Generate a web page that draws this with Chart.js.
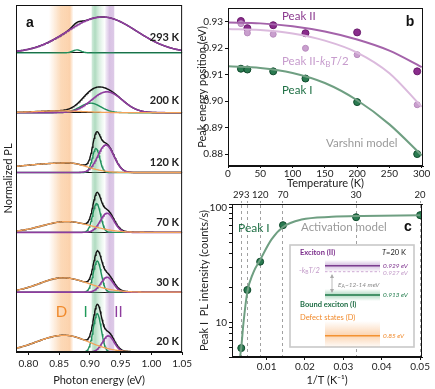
<!DOCTYPE html>
<html><head><meta charset="utf-8">
<script src="https://cdn.jsdelivr.net/npm/chart.js@4.4.1/dist/chart.umd.min.js"></script>
<style>
html,body{margin:0;padding:0;background:#fff;width:435px;height:389px;overflow:hidden}
canvas{position:absolute}
</style></head><body>
<canvas id="ca" width="195" height="389" style="left:0;top:0"></canvas>
<canvas id="cb" width="240" height="190" style="left:195px;top:0"></canvas>
<canvas id="cc" width="240" height="199" style="left:195px;top:190px"></canvas>
<script>
// ---------- Panel a: PL spectra (fit components) ----------
const tempLabels = ['293 K','200 K','120 K','70 K','30 K','20 K'];
const spectrumOffsets = [5,4,3,2,1,0];
// Peak I (bound exciton) gaussian: centre (eV), sigma (eV), amplitude
const peakI_E = [0.879, 0.901, 0.910, 0.911, 0.912, 0.912];
const peakI_W = [0.007, 0.017, 0.006, 0.0065, 0.0065, 0.0065];
const peakI_A = [0.05, 0.16, 0.40, 0.48, 0.52, 0.64];
// Peak II (exciton)
const peakII_E = [0.920, 0.9276, 0.926, 0.928, 0.928, 0.930];
const peakII_W = [0.056, 0.025, 0.013, 0.011, 0.010, 0.0095];
const peakII_A = [0.60, 0.35, 0.46, 0.32, 0.25, 0.27];
// Peak D (defect states), split gaussian
const peakD_E = [0.86, 0.85, 0.865, 0.862, 0.856, 0.858];
const peakD_WL = [0.04, 0.04, 0.09, 0.04, 0.038, 0.045];
const peakD_WR = [0.04, 0.04, 0.03, 0.04, 0.042, 0.04];
const peakD_A = [0, 0.03, 0.16, 0.18, 0.24, 0.28];
const energyTicks = [0.80, 0.85, 0.90, 0.95, 1.00, 1.05];

// ---------- Panel b: peak positions ----------
const tempK = [20, 30, 70, 120, 200, 293];
const peakII_pos = [0.9302, 0.9275, 0.9286, 0.9256, 0.9259, 0.9112];
const peakIIkT_pos = [0.9292, 0.9257, 0.9252, 0.9199, 0.9175, 0.8986];
const peakI_pos = [0.9122, 0.9119, 0.9112, 0.9085, 0.8996, 0.8800];
const varshniT = [0, 50, 100, 150, 200, 250, 300];
const varshniII = [0.9296, 0.9293, 0.9282, 0.9262, 0.9232, 0.9190, 0.9128];
const varshniIIkT = [0.9272, 0.9268, 0.9255, 0.9228, 0.9183, 0.9105, 0.8978];
const varshniI = [0.9131, 0.9125, 0.9106, 0.9068, 0.9003, 0.8912, 0.8795];
const tempTicks = [0, 50, 100, 150, 200, 250, 300];
const energyPosTicks = [0.88, 0.89, 0.90, 0.91, 0.92, 0.93];

// ---------- Panel c: Peak I intensity ----------
const peakI_int = [86.3, 82.8, 70.6, 33.9, 19.2, 5.98];
const activX = [0.0031, 0.0034, 0.004, 0.005, 0.0065, 0.0083, 0.0113, 0.0143, 0.0191, 0.027, 0.035, 0.05];
const activY = [5.0, 6.0, 10.0, 18.5, 27, 35, 53, 68, 79, 83.5, 85, 86];
const invTTicks = [0.01, 0.02, 0.03, 0.04, 0.05];
const topTickT = [293, 200, 120, 70, 30, 20];
const topTickLabels = ['293', '', '120', '70', '30', '20'];

const FONT = 'Lato, "Open Sans", sans-serif';
Chart.defaults.font.family = FONT;
Chart.defaults.color = '#222';
Chart.defaults.animation = false;
Chart.defaults.plugins.legend.display = false;
Chart.defaults.plugins.tooltip.enabled = false;

const GREEN='#1f8f5c', PURPLE='#8e3c9e', ORANGE='#f4a35a';

function rich(ctx, x, y, segs, align){
  let w=0; segs.forEach(s=>{ctx.font=s[1]; w+=ctx.measureText(s[0]).width;});
  let cx = align==='right'? x-w : (align==='center'? x-w/2 : x);
  ctx.textBaseline='middle'; ctx.textAlign='left';
  segs.forEach(s=>{ctx.font=s[1]; ctx.fillStyle=s[2]; ctx.fillText(s[0], cx, y+(s[3]||0)); cx+=ctx.measureText(s[0]).width;});
}
const framePlugin = {id:'frame', afterDraw(chart){
  const {ctx, chartArea:a} = chart; ctx.save(); ctx.strokeStyle='#111'; ctx.lineWidth=1;
  ctx.strokeRect(a.left+0.5, a.top+0.5, a.right-a.left-1, a.bottom-a.top-1); ctx.restore();
}};
const setTicks = arr => (s => { s.ticks = arr.map(v => ({value: v})); });

// ---- build panel a datasets
const eGrid=[]; for(let i=0;i<=270;i++) eGrid.push(0.78+i*0.001);
function gauss(e,c,w,a){return a*Math.exp(-(e-c)*(e-c)/(2*w*w));}
function gaussSplit(e,c,wl,wr,a){const w=e<c?wl:wr; return a*Math.exp(-(e-c)*(e-c)/(2*w*w));}
const dsA=[];
for(let k=0;k<6;k++){
  const off=spectrumOffsets[k];
  const D=eGrid.map(e=>gaussSplit(e,peakD_E[k],peakD_WL[k],peakD_WR[k],peakD_A[k]));
  const P2=eGrid.map(e=>gauss(e,peakII_E[k],peakII_W[k],peakII_A[k]));
  const P1=eGrid.map(e=>gauss(e,peakI_E[k],peakI_W[k],peakI_A[k]));
  const mk=(arr,col,w)=>({data:eGrid.map((e,i)=>({x:e,y:off+arr[i]})),borderColor:col,borderWidth:w,pointRadius:0,fill:false,tension:0});
  if(peakD_A[k]>0) dsA.push(mk(D,ORANGE,1.3));
  dsA.push(mk(P2,PURPLE,1.6));
  dsA.push(mk(P1,GREEN,1.4));
  dsA.push(mk(eGrid.map((e,i)=>D[i]+P2[i]+P1[i]),'#111',1.4));
}
const bandsA = {id:'bandsA', beforeDatasetsDraw(chart){
  const {ctx, chartArea:a, scales:{x}} = chart;
  const bands=[
    [0.8334,0.8735,[[0,'rgba(248,170,95,0)'],[0.5,'rgba(248,170,95,0.45)'],[0.85,'rgba(248,165,90,0.5)'],[1,'rgba(248,170,95,0)']]],
    [0.903,0.925,[[0,'rgba(120,195,150,0.35)'],[0.25,'rgba(110,190,140,0.55)'],[0.55,'rgba(130,200,155,0.3)'],[1,'rgba(150,210,170,0)']]],
    [0.925,0.9405,[[0,'rgba(180,140,205,0.15)'],[0.45,'rgba(170,120,195,0.45)'],[0.9,'rgba(170,120,195,0.4)'],[1,'rgba(170,120,195,0.05)']]]
  ];
  ctx.save();
  bands.forEach(b=>{const p0=x.getPixelForValue(b[0]), p1=x.getPixelForValue(b[1]);
    const g=ctx.createLinearGradient(p0,0,p1,0); b[2].forEach(s=>g.addColorStop(s[0],s[1]));
    ctx.fillStyle=g; ctx.fillRect(p0,a.top,p1-p0,a.bottom-a.top);});
  ctx.restore();
}, afterDraw(chart){
  const {ctx, chartArea:a, scales:{x,y}} = chart;
  ctx.save();
  ctx.font='bold 14px "Liberation Sans", Arial'; ctx.fillStyle='#111'; ctx.textAlign='center'; ctx.textBaseline='middle';
  ctx.fillText('a', a.left+14, a.top+18);
  ctx.font='bold 11px '+FONT; ctx.textAlign='right'; ctx.fillStyle='#222';
  const dy=[0.25,0.2,0.17,0.17,0.17,0.18];
  tempLabels.forEach((t,k)=>ctx.fillText(t, a.right-3, y.getPixelForValue(spectrumOffsets[k]+dy[k])));
  ctx.font='15px '+FONT; ctx.textAlign='center';
  ctx.fillStyle='#f08a2c'; ctx.fillText('D', x.getPixelForValue(0.854), y.getPixelForValue(0.67));
  ctx.fillStyle='#1f9a5a'; ctx.fillText('I', x.getPixelForValue(0.893), y.getPixelForValue(0.67));
  ctx.fillStyle='#8e3c9e'; ctx.fillText('II', x.getPixelForValue(0.9464), y.getPixelForValue(0.67));
  ctx.restore();
}};
new Chart(document.getElementById('ca'), {
  type:'line', data:{datasets:dsA},
  options:{responsive:false, layout:{padding:{left:0,right:7,top:5,bottom:0}},
    scales:{
      x:{type:'linear',min:0.78,max:1.05,afterFit:s=>{s.height=37;},
        afterBuildTicks:setTicks(energyTicks),
        ticks:{callback:v=>v.toFixed(2),font:{size:10},padding:3,maxRotation:0,autoSkip:false},
        grid:{display:true,drawOnChartArea:false,tickLength:3,color:'#111'},border:{color:'#111'},
        title:{display:true,text:'Photon energy (eV)',font:{size:11},padding:{top:0,bottom:2}}},
      y:{type:'linear',min:0,max:5.8,afterFit:s=>{s.width=16;},
        afterBuildTicks:setTicks(spectrumOffsets),
        ticks:{display:false},
        grid:{color:'#111',lineWidth:1,drawTicks:false},border:{color:'#111'},
        title:{display:true,text:'Normalized PL',font:{size:11},padding:{top:1.5,bottom:0}}}
    }},
  plugins:[bandsA, framePlugin]
});

// ---- Panel b
const xyB=(xs,ys)=>xs.map((v,i)=>({x:v,y:ys[i]}));
const labelsB={id:'labelsB', afterDraw(chart){
  const {ctx}=chart; ctx.save();
  const f='11.5px '+FONT, fi='italic 11.5px '+FONT, fs='8px '+FONT;
  rich(ctx,87,16.7,[['Peak II',f,'#8b3a8f']]);
  rich(ctx,87,61.7,[['Peak II-',f,'#c79ccd'],['k',fi,'#c79ccd'],['B',fs,'#c79ccd',3],['T',fi,'#c79ccd'],['/2',f,'#c79ccd']]);
  rich(ctx,87,90.7,[['Peak I',f,'#1f7045']]);
  rich(ctx,131,143.3,[['Varshni model',f,'#9a9a9a']]);
  ctx.font='bold 14px "Liberation Sans", Arial'; ctx.fillStyle='#111'; ctx.textAlign='center'; ctx.textBaseline='middle';
  ctx.fillText('b',215,22);
  ctx.restore();
}};
new Chart(document.getElementById('cb'), {
  type:'line',
  data:{datasets:[
    {data:xyB(varshniT,varshniII),borderColor:'#a463aa',borderWidth:2,pointRadius:0,cubicInterpolationMode:'monotone'},
    {data:xyB(varshniT,varshniIIkT),borderColor:'#dbbadd',borderWidth:2,pointRadius:0,cubicInterpolationMode:'monotone'},
    {data:xyB(varshniT,varshniI),borderColor:'#6f9f82',borderWidth:2,pointRadius:0,cubicInterpolationMode:'monotone'},
    {data:xyB(tempK,peakIIkT_pos),showLine:false,pointRadius:3,pointBackgroundColor:'#c99fce',pointBorderColor:'#b88abd',pointBorderWidth:1},
    {data:xyB(tempK,peakII_pos),showLine:false,pointRadius:3.5,pointBackgroundColor:'#8a2c8c',pointBorderColor:'#6a1a6c',pointBorderWidth:1},
    {data:xyB(tempK,peakI_pos),showLine:false,pointRadius:3.5,pointBackgroundColor:'#2a7a50',pointBorderColor:'#0f4a2c',pointBorderWidth:1}
  ]},
  options:{responsive:false, layout:{padding:{left:0,right:12,top:7,bottom:0}},
    scales:{
      x:{type:'linear',min:0,max:302,afterFit:s=>{s.height=24;},
        afterBuildTicks:setTicks(tempTicks),
        ticks:{font:{size:10},padding:0,maxRotation:0,autoSkip:false},
        grid:{drawOnChartArea:false,tickLength:2,color:'#111'},border:{color:'#111'},
        title:{display:true,text:'Temperature (K)',font:{size:11},padding:{top:0,bottom:0}}},
      y:{type:'linear',min:0.8755,max:0.9351,afterFit:s=>{s.width=33;},
        afterBuildTicks:setTicks(energyPosTicks),
        ticks:{callback:v=>v.toFixed(2),font:{size:10},padding:2,autoSkip:false},
        grid:{drawOnChartArea:false,tickLength:3,color:'#111'},border:{color:'#111'},
        title:{display:true,text:'Peak energy position (eV)',font:{size:11},padding:{top:1,bottom:0}}}
    }},
  plugins:[labelsB, framePlugin]
});

// ---- Panel c
const insetC={id:'insetC', afterDatasetsDraw(chart){
  const {ctx}=chart; ctx.save();
  ctx.fillStyle='#fff'; ctx.fillRect(95,55,124,102);
  ctx.strokeStyle='#c9c9c9'; ctx.lineWidth=1.6; ctx.strokeRect(95,55,124,102);
  const x0=130,x1=185;
  let g=ctx.createLinearGradient(0,70,0,82); g.addColorStop(0,'rgba(160,110,185,0)'); g.addColorStop(0.45,'rgba(160,110,185,0.45)'); g.addColorStop(1,'rgba(160,110,185,0)');
  ctx.fillStyle=g; ctx.fillRect(x0,70,x1-x0,12);
  g=ctx.createLinearGradient(0,99,0,111); g.addColorStop(0,'rgba(80,170,120,0)'); g.addColorStop(0.5,'rgba(80,170,120,0.45)'); g.addColorStop(1,'rgba(80,170,120,0)');
  ctx.fillStyle=g; ctx.fillRect(x0,99,x1-x0,12);
  g=ctx.createLinearGradient(0,131,0,157); g.addColorStop(0,'rgba(248,175,110,0)'); g.addColorStop(0.55,'rgba(248,170,100,0.5)'); g.addColorStop(1,'rgba(248,175,110,0.05)');
  ctx.fillStyle=g; ctx.fillRect(x0,131,x1-x0,26);
  ctx.lineWidth=1.6;
  ctx.strokeStyle='#7b3d8f'; ctx.beginPath(); ctx.moveTo(x0,75.7); ctx.lineTo(x1,75.7); ctx.stroke();
  ctx.strokeStyle='#1f7a4a'; ctx.beginPath(); ctx.moveTo(x0,105); ctx.lineTo(x1,105); ctx.stroke();
  ctx.strokeStyle='#f39232'; ctx.lineWidth=1.4; ctx.beginPath(); ctx.moveTo(x0,145.7); ctx.lineTo(x1,145.7); ctx.stroke();
  ctx.strokeStyle='#caa3cf'; ctx.lineWidth=0.9; ctx.setLineDash([2.5,2]); ctx.beginPath(); ctx.moveTo(x0,81.7); ctx.lineTo(x1,81.7); ctx.stroke(); ctx.setLineDash([]);
  ctx.strokeStyle='#aaa'; ctx.fillStyle='#aaa'; ctx.lineWidth=0.8;
  ctx.beginPath(); ctx.moveTo(137,85); ctx.lineTo(137,102); ctx.stroke();
  ctx.beginPath(); ctx.moveTo(137,84); ctx.lineTo(135,88); ctx.lineTo(139,88); ctx.closePath(); ctx.fill();
  ctx.beginPath(); ctx.moveTo(137,103); ctx.lineTo(135,99); ctx.lineTo(139,99); ctx.closePath(); ctx.fill();
  const fb='bold 7.5px '+FONT, f='7.5px '+FONT, fi='italic 6.5px '+FONT, fii='italic 7.5px '+FONT, fs='5px '+FONT;
  rich(ctx,105,62.7,[['Exciton (II)',fb,'#7b2d8b']]);
  rich(ctx,211,62.7,[['T',fii,'#222'],['=20 K',f,'#222']],'right');
  rich(ctx,188,75.7,[['0.929 eV',fi,'#7b2d8b']]);
  rich(ctx,104,80.7,[['-',f,'#c39bc9'],['k',fii,'#c39bc9'],['B',fs,'#c39bc9',2],['T/2',fii,'#c39bc9']]);
  rich(ctx,188,83.3,[['0.927 eV',fi,'#c39bc9']]);
  rich(ctx,143,94.5,[['E',fi,'#888'],['A',fs,'#888',2],['~12-14 meV',fi,'#888']]);
  rich(ctx,188,105,[['0.913 eV',fi,'#1f7a4a']]);
  rich(ctx,105,115,[['Bound exciton (I)',fb,'#1f6e45']]);
  rich(ctx,105,127.7,[['Defect states (D)',f,'#f08a2c']]);
  rich(ctx,188,145.7,[['0.85 eV',fi,'#f08a2c']]);
  rich(ctx,43,37.7,[['Peak I','12px '+FONT,'#1f7045']]);
  rich(ctx,106,37.7,[['Activation model','11.5px '+FONT,'#9a9a9a']]);
  ctx.font='bold 14px "Liberation Sans", Arial'; ctx.fillStyle='#111'; ctx.textAlign='center'; ctx.textBaseline='middle';
  ctx.fillText('c',213,37);
  ctx.restore();
}};
const invT = tempK.map(t=>1/t);
new Chart(document.getElementById('cc'), {
  type:'line',
  data:{datasets:[
    {data:xyB(activX,activY),borderColor:'#6f9f82',borderWidth:2,pointRadius:0,cubicInterpolationMode:'monotone'},
    {data:xyB(invT,peakI_int),showLine:false,pointRadius:3.5,pointBackgroundColor:'#2a7a50',pointBorderColor:'#0f4a2c',pointBorderWidth:1}
  ]},
  options:{responsive:false, layout:{padding:{left:0,right:13,top:0,bottom:0}},
    scales:{
      x:{type:'linear',position:'bottom',min:0.001,max:0.0505,afterFit:s=>{s.height=32;},
        afterBuildTicks:setTicks(invTTicks),
        ticks:{callback:v=>v.toFixed(2),font:{size:10},padding:1,maxRotation:0,autoSkip:false},
        grid:{drawOnChartArea:false,tickLength:3,color:'#111'},border:{color:'#111'},
        title:{display:true,text:'1/T (K⁻¹)',font:{size:11},padding:{top:0,bottom:2}}},
      x2:{type:'linear',position:'top',min:0.001,max:0.0505,afterFit:s=>{s.height=14;},
        afterBuildTicks:s=>{s.ticks=topTickT.map(t=>({value:1/t}));},
        ticks:{callback:(v,i)=>topTickLabels[i],font:{size:9.5},padding:0,maxRotation:0,autoSkip:false},
        grid:{drawOnChartArea:true,color:'#8a8a8a',lineWidth:0.8,tickLength:3,tickColor:'#8a8a8a',tickBorderDash:[2,2]},
        border:{color:'#111',dash:[3,3]}},
      y:{type:'logarithmic',min:5,max:108,afterFit:s=>{s.width=37;},
        ticks:{callback:v=>(v===10||v===100)?String(v):'',font:{size:10},padding:2,autoSkip:false},
        grid:{drawOnChartArea:false,tickLength:3,color:'#111'},border:{color:'#111'},
        title:{display:true,text:'Peak I  PL intensity (counts/s)',font:{size:11},padding:{top:3,bottom:0}}}
    }},
  plugins:[insetC, framePlugin]
});
</script>
</body></html>
